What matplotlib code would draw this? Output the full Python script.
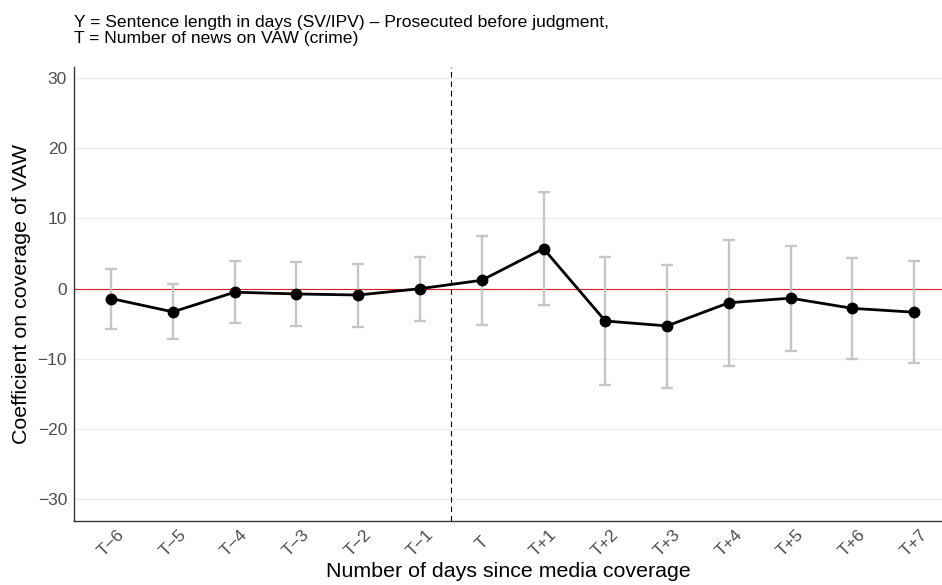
import numpy as np
import matplotlib
matplotlib.use('Agg')
import matplotlib.pyplot as plt

plt.rcParams['font.family'] = ['Liberation Sans', 'DejaVu Sans']

labels = ['T\u22126', 'T\u22125', 'T\u22124', 'T\u22123', 'T\u22122', 'T\u22121', 'T',
          'T+1', 'T+2', 'T+3', 'T+4', 'T+5', 'T+6', 'T+7']
coef = [-1.4, -3.3, -0.5, -0.75, -0.9, 0.0, 1.2, 5.7, -4.6, -5.3, -2.0, -1.35, -2.8, -3.35]
ci_hi = [2.8, 0.6, 3.95, 3.75, 3.55, 4.55, 7.5, 13.7, 4.45, 3.4, 6.95, 6.05, 4.3, 3.9]
ci_lo = [-5.7, -7.2, -4.9, -5.3, -5.4, -4.6, -5.15, -2.3, -13.65, -14.1, -10.95, -8.85, -10.0, -10.55]
yticks = [-30, -20, -10, 0, 10, 20, 30]

x = np.arange(len(labels))
coef = np.array(coef)
lo = coef - np.array(ci_lo)
hi = np.array(ci_hi) - coef

fig = plt.figure(figsize=(9.42, 5.85), dpi=100)
# axes box placed in pixels to match the reference
ax = fig.add_axes([74/942, 1 - 520.5/585, 868/942, (520.5 - 66.7)/585])

ax.axhline(0, color='#d42020', lw=0.8, zorder=1)
ax.axvline(5.5, color='black', lw=0.8, ls=(0, (5, 3.5)), zorder=1)
ax.errorbar(x, coef, yerr=[lo, hi], fmt='none', ecolor='#c6c6c6', elinewidth=1.7,
            capsize=4.5, capthick=1.7, zorder=2)
ax.plot(x, coef, color='black', lw=2, marker='o', ms=7.5, zorder=3)

ax.set_xlim(-0.6, 13.45)
ax.set_ylim(-33.0, 31.6)
ax.set_yticks(yticks)
ax.set_yticklabels([str(v).replace('-', '\u2212') for v in yticks])
ax.set_xticks(x)
ax.set_xticklabels(labels, rotation=45, ha='center', va='center', rotation_mode='anchor')
ax.grid(axis='y', color='#ebebeb', lw=0.9)
ax.set_axisbelow(True)
for s in ['top', 'right']:
    ax.spines[s].set_visible(False)
for s in ['left', 'bottom']:
    ax.spines[s].set_color('#333333')
    ax.spines[s].set_linewidth(1.0)
ax.tick_params(axis='both', length=0, labelsize=12.5, colors='#4d4d4d')
ax.tick_params(axis='y', pad=5)
ax.tick_params(axis='x', pad=16)

ax.set_xlabel('Number of days since media coverage', fontsize=15.4, labelpad=2)
ax.set_ylabel('Coefficient on coverage of VAW', fontsize=15.4, labelpad=5)
fig.text(74/942, 1 - 27/585,
         'Y = Sentence length in days (SV/IPV) \u2013 Prosecuted before judgment,',
         fontsize=12.6, va='baseline', ha='left')
fig.text(74/942, 1 - 42.5/585, 'T = Number of news on VAW (crime)',
         fontsize=12.6, va='baseline', ha='left')

fig.savefig('out.png', dpi=100)
